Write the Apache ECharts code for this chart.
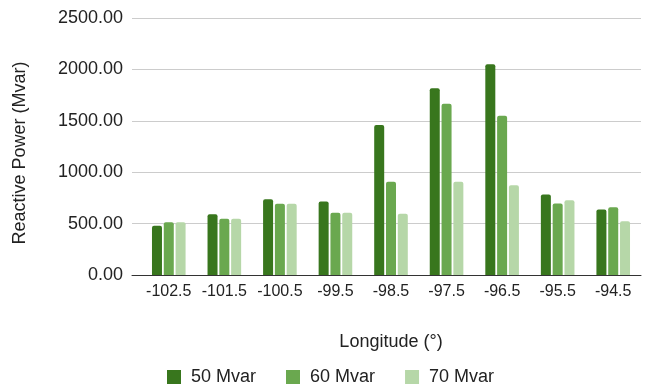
<!DOCTYPE html>
<html>
<head>
<meta charset="utf-8">
<script src="https://cdn.jsdelivr.net/npm/echarts@6/dist/echarts.min.js"></script>
<style>
  html, body { margin: 0; padding: 0; background: #ffffff; }
  #chart { width: 649px; height: 392px; }
</style>
</head>
<body>
<div id="chart"></div>
<script>
// Longitude bands (degrees) along the horizontal axis
const longitudes = ['-102.5', '-101.5', '-100.5', '-99.5', '-98.5', '-97.5', '-96.5', '-95.5', '-94.5'];

// Reactive power (Mvar) for each case
const mvar50 = [480, 592, 738, 715, 1459, 1816, 2049, 783, 637];
const mvar60 = [514, 547, 692, 605, 906, 1666, 1550, 695, 660];
const mvar70 = [514, 547, 692, 605, 595, 906, 874, 728, 524];

const seriesNames = ['50 Mvar', '60 Mvar', '70 Mvar'];
const seriesColors = ['#38761d', '#6aa84f', '#b6d7a8'];

const yMin = 0, yMax = 2500, yStep = 500;
const FONT = '"Liberation Sans", Arial, sans-serif';
const TEXT = '#222222';

const chart = echarts.init(document.getElementById('chart'), null, { renderer: 'canvas' });

const seriesData = [mvar50, mvar60, mvar70];

chart.setOption({
  animation: false,
  backgroundColor: '#ffffff',
  textStyle: { fontFamily: FONT, color: TEXT },
  grid: [
    // value axis, gridlines and baseline
    { left: 132, right: 8, top: 18, bottom: 117 },
    // bar area
    { left: 141, right: 8, top: 18, bottom: 117 }
  ],
  legend: {
    data: seriesNames,
    left: 167,
    top: 368,
    padding: 0,
    itemWidth: 14,
    itemHeight: 14,
    itemGap: 30,
    icon: 'rect',
    textStyle: { fontFamily: FONT, fontSize: 18, color: TEXT, padding: [0, 0, 0, 5] }
  },
  xAxis: [
    {
      type: 'category',
      gridIndex: 0,
      data: longitudes,
      axisLine: { show: true, lineStyle: { color: '#333333', width: 1 } },
      axisTick: { show: false },
      axisLabel: { show: false },
      splitLine: { show: false }
    },
    {
      type: 'category',
      gridIndex: 1,
      data: longitudes,
      axisLine: { show: false },
      axisTick: { show: false },
      axisLabel: { fontFamily: FONT, fontSize: 16, color: TEXT, margin: 9, interval: 0 },
      name: 'Longitude (°)',
      nameLocation: 'middle',
      nameGap: 58,
      nameTextStyle: { fontFamily: FONT, fontSize: 18, color: TEXT }
    }
  ],
  yAxis: [
    {
      type: 'value',
      gridIndex: 0,
      min: yMin,
      max: yMax,
      interval: yStep,
      axisLine: { show: false },
      axisTick: { show: false },
      axisLabel: {
        fontFamily: FONT, fontSize: 18, color: TEXT, margin: 9,
        formatter: v => v.toFixed(2)
      },
      splitLine: { show: true, lineStyle: { color: '#cccccc', width: 1 } },
      name: 'Reactive Power (Mvar)',
      nameLocation: 'middle',
      nameGap: 103,
      nameTextStyle: { fontFamily: FONT, fontSize: 18, color: TEXT, padding: [0, 13, 0, 0] }
    },
    {
      type: 'value',
      gridIndex: 1,
      min: yMin,
      max: yMax,
      interval: yStep,
      show: false
    }
  ],
  series: seriesNames.map((name, i) => ({
    name: name,
    type: 'bar',
    xAxisIndex: 1,
    yAxisIndex: 1,
    data: seriesData[i],
    barWidth: 10,
    barGap: '18%',
    itemStyle: { color: seriesColors[i], borderRadius: [2, 2, 0, 0] }
  }))
});
</script>
</body>
</html>
